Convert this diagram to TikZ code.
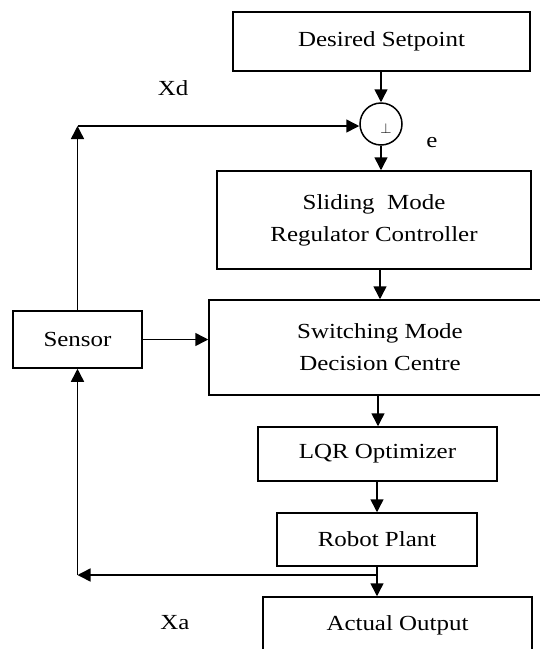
\documentclass[tikz,border=0pt]{standalone}
\usepackage{fontspec}
\setmainfont{Liberation Serif}[FakeStretch=1.16]
\usetikzlibrary{arrows.meta}
\begin{document}
\begin{tikzpicture}[x=1pt,y=-1pt,
  font=\fontsize{21.5}{32}\selectfont,
  blk/.style={draw, line width=1.5pt, inner sep=0pt, align=center},
  arr/.style={line width=1.5pt, -{Triangle[length=13pt,width=13pt]}},
  ln/.style={line width=1.5pt}]
\useasboundingbox (0,0) rectangle (540,649);
\clip (0,0) rectangle (540,649);
\node[blk, minimum width=297pt, minimum height=59pt] (des) at (381.5,41.5) {Desired Setpoint};
\node[draw, circle, line width=1.5pt, minimum size=42pt, inner sep=0pt] (sum) at (381,124) {};
\node[font=\fontsize{14}{14}\selectfont] (pl) at (386,128) {$\perp$};
\node[blk, minimum width=314pt, minimum height=98pt] (slm) at (374,220) {Sliding\ \ Mode\\Regulator Controller};
\node[blk, minimum width=342pt, minimum height=95pt] (swm) at (380,347.5) {Switching Mode\\Decision Centre};
\node[blk, minimum width=239pt, minimum height=54pt] (lqr) at (377.5,454) {LQR Optimizer};
\node[blk, minimum width=200pt, minimum height=53pt] (rob) at (377,539.5) {Robot Plant};
\node[blk, minimum width=269pt, minimum height=56pt] (act) at (397.5,625) {Actual Output};
\node[blk, minimum width=129pt, minimum height=57pt] (sen) at (77.5,339.5) {Sensor};
\node (xd) at (173,88) {Xd};
\node (e) at (432,143) {e};
\node (xa) at (175,623) {Xa};
\coordinate (tl) at (77.5,126);
\coordinate (bl) at (77.5,575);
\coordinate (rb) at (377,575);
\draw[arr] (des.south -| sum) -- (sum.north);
\draw[arr] (sum.south) -- (sum.south |- slm.north);
\draw[arr] (slm.south -| 380,0) -- (swm.north -| 380,0);
\draw[arr] (swm.south -| 378,0) -- (lqr.north -| 378,0);
\draw[arr] (lqr.south -| 377,0) -- (rob.north -| 377,0);
\draw[arr] (rob.south -| 377,0) -- (act.north -| 377,0);
\draw[arr] (rb) -- (bl);
\draw[arr] (bl) -- (sen.south);
\draw[arr] (sen.north) -- (tl);
\draw[arr] (tl) -- (sum.west |- tl);
\draw[arr] (sen.east) -- (swm.west |- sen.east);
\end{tikzpicture}
\end{document}
